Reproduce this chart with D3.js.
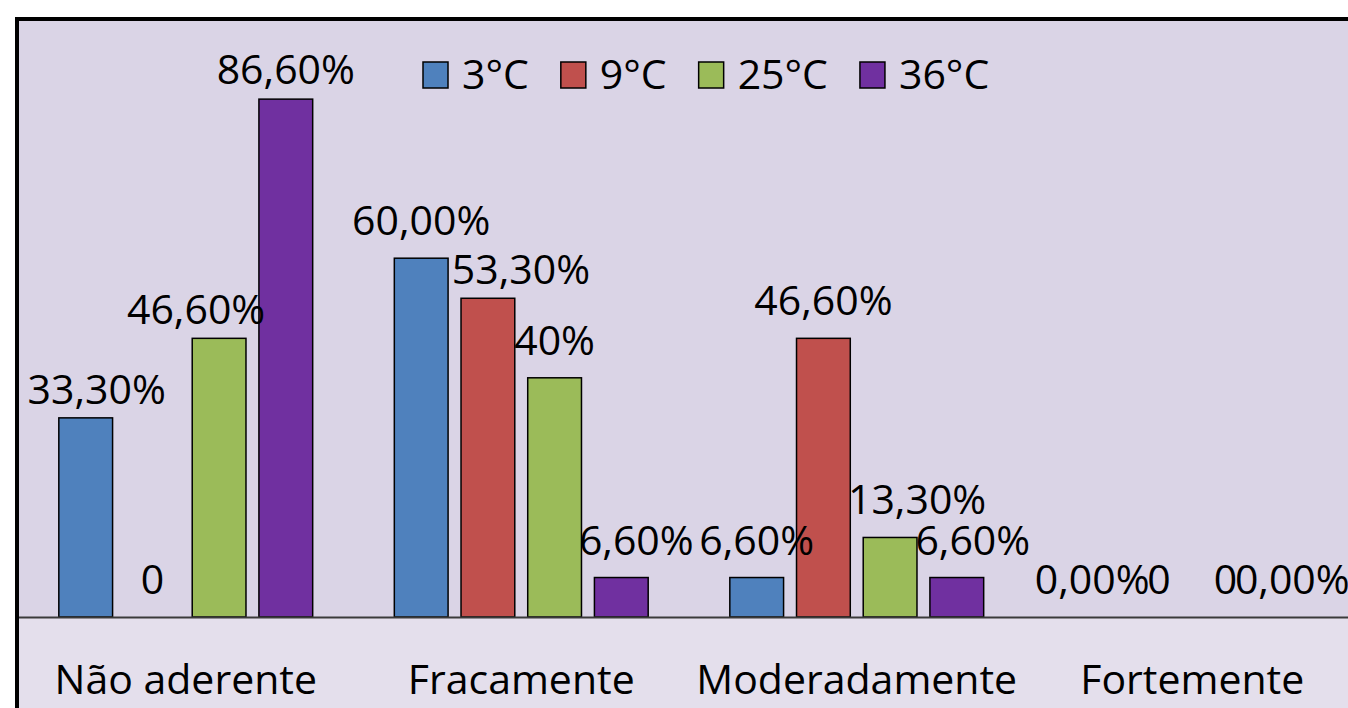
<!DOCTYPE html>
<html>
<head>
<meta charset="utf-8">
<script src="https://cdn.jsdelivr.net/npm/d3@7"></script>
<style>
  body { margin: 0; background: #fff; overflow: hidden; }
  text { font-family: 'Open Sans', sans-serif; fill: #000; }
</style>
</head>
<body>
<div id="chart"></div>
<script>
const categories = ['Não aderente', 'Fracamente', 'Moderadamente', 'Fortemente'];
const seriesNames = ['3°C', '9°C', '25°C', '36°C'];

// percentages per category, one array per temperature
const values3 = [33.3, 60.0, 6.6, 0];
const values9 = [0, 53.3, 46.6, 0];
const values25 = [46.6, 40.0, 13.3, 0];
const values36 = [86.6, 6.6, 6.6, 0];

// data labels as they are printed on the chart
const labels3 = ['33,30%', '60,00%', '6,60%', '0,00%'];
const labels9 = ['0', '53,30%', '46,60%', '0'];
const labels25 = ['46,60%', '40%', '13,30%', '0'];
const labels36 = ['86,60%', '6,60%', '6,60%', '0,00%'];

const colors = ['#4F81BD', '#C0504D', '#9BBB59', '#7030A0'];

// manual nudges of some labels (dx, dy), as moved in the original
const labelNudge = {
  '0-0': [11, 9], '0-2': [-23, 9], '0-3': [0, 8],
  '1-1': [33, 9], '1-3': [15, 0],
  '2-2': [27, 0], '2-3': [16, 0],
};

const width = 1348;
const height = 708;
const plotLeft = 17;
const plotTop = 19;
const axisY = 617;
const fontSize = 41;

const allValues = [values3, values9, values25, values36];
const allLabels = [labels3, labels9, labels25, labels36];

const data = [];
categories.forEach((cat, ci) => {
  seriesNames.forEach((s, si) => {
    data.push({ cat, ci, s, si, value: allValues[si][ci], label: allLabels[si][ci] });
  });
});

const svg = d3.select('#chart').append('svg')
  .attr('width', width)
  .attr('height', height);

// backgrounds
svg.append('rect')
  .attr('x', plotLeft).attr('y', plotTop)
  .attr('width', width).attr('height', axisY - plotTop)
  .style('fill', '#DAD4E6');
svg.append('rect')
  .attr('x', plotLeft).attr('y', axisY)
  .attr('width', width).attr('height', height - axisY)
  .style('fill', '#E4DFEC');

const x0 = d3.scaleBand().domain(categories).range([plotLeft + 1, plotLeft + 1 + 4 * 335.5]);
const x1 = d3.scaleBand().domain(seriesNames).range([0, x0.bandwidth()])
  .paddingInner(0.194).paddingOuter(0.612);
const y = d3.scaleLinear().domain([0, 100]).range([axisY, plotTop]);

// bars
svg.append('g').selectAll('rect')
  .data(data)
  .enter().append('rect')
  .attr('x', (d) => x0(d.cat) + x1(d.s))
  .attr('y', (d) => y(d.value))
  .attr('width', x1.bandwidth())
  .attr('height', (d) => y(0) - y(d.value))
  .style('fill', (d) => colors[d.si])
  .style('stroke', (d) => (d.value > 0 ? '#000' : 'none'))
  .style('stroke-width', 1.5);

// axis line
const xAxis = d3.axisBottom(x0).tickSize(0).tickPadding(0).tickFormat('');
const axisG = svg.append('g')
  .attr('transform', `translate(0,${axisY})`)
  .call(xAxis);
axisG.select('.domain').style('stroke', '#3a3a3a').style('stroke-width', 2);

// category labels
svg.append('g').selectAll('text')
  .data(categories)
  .enter().append('text')
  .attr('x', (d) => x0(d) + x0.bandwidth() / 2)
  .attr('y', 694)
  .style('text-anchor', 'middle')
  .style('font-size', `${fontSize}px`)
  .text((d) => d);

// data labels
svg.append('g').selectAll('text')
  .data(data)
  .enter().append('text')
  .attr('x', (d) => {
    const n = labelNudge[`${d.ci}-${d.si}`] || [0, 0];
    return x0(d.cat) + x1(d.s) + x1.bandwidth() / 2 + n[0];
  })
  .attr('y', (d) => {
    const n = labelNudge[`${d.ci}-${d.si}`] || [0, 0];
    return y(d.value) - 23 + n[1];
  })
  .style('text-anchor', 'middle')
  .style('font-size', `${fontSize}px`)
  .text((d) => d.label);

// plot border (top and left)
svg.append('path')
  .attr('d', `M${plotLeft},${height}V${plotTop}H${width}`)
  .style('fill', 'none')
  .style('stroke', '#000')
  .style('stroke-width', 4);

// legend
const legend = svg.append('g').attr('class', 'legend');
let lx = 423;
seriesNames.forEach((s, i) => {
  legend.append('rect')
    .attr('x', lx).attr('y', 62)
    .attr('width', 25).attr('height', 26)
    .style('fill', colors[i])
    .style('stroke', '#000')
    .style('stroke-width', 1.5);
  const t = legend.append('text')
    .attr('x', lx + 39).attr('y', 89)
    .style('font-size', `${fontSize}px`)
    .text(s);
  lx += 39 + t.node().getComputedTextLength() + 32;
});
</script>
</body>
</html>
